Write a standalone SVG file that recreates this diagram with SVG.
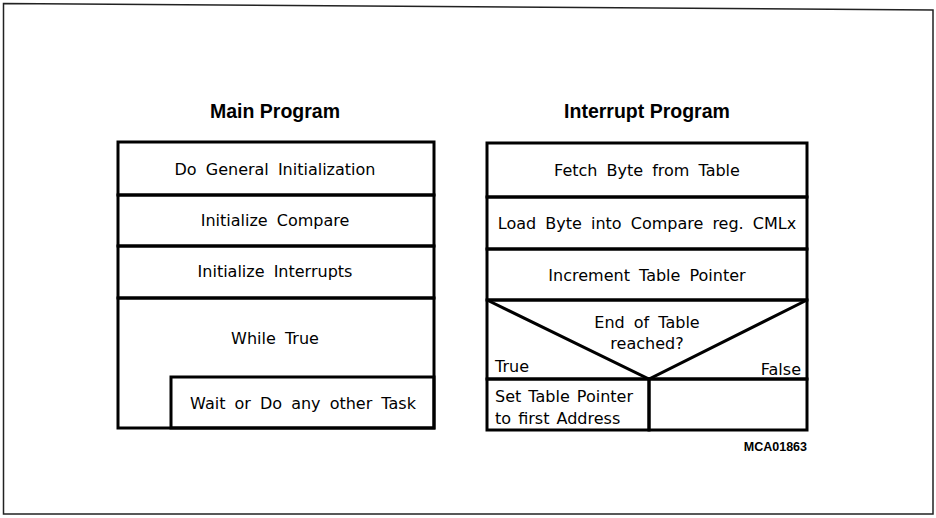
<svg xmlns="http://www.w3.org/2000/svg" width="936" height="518" viewBox="0 0 936 518">
<style>
.b{fill:none;stroke:#000;stroke-width:3}
.t{font-family:"DejaVu Sans","Liberation Sans",sans-serif;font-size:16px;fill:#000;word-spacing:4px}
.h{font-family:"Liberation Sans",sans-serif;font-size:19.5px;font-weight:bold;fill:#000}
.c{text-anchor:middle}
.r{text-anchor:end}
</style>
<rect width="936" height="518" fill="#fff"/>
<path d="M3.5,3.5 L933,10 L933,514 L3.5,514 Z" fill="none" stroke="#222" stroke-width="1.5"/>
<g id="main">
<text class="h c" x="275" y="118">Main Program</text>
<g id="m1"><rect class="b" x="118" y="142" width="316" height="53"/><text class="t c" x="275" y="175">Do General Initialization</text></g>
<g id="m2"><rect class="b" x="118" y="195" width="316" height="51"/><text class="t c" x="275" y="226">Initialize Compare</text></g>
<g id="m3"><rect class="b" x="118" y="246" width="316" height="52"/><text class="t c" x="275" y="277">Initialize Interrupts</text></g>
<g id="m4"><rect class="b" x="118" y="298" width="316" height="130"/><text class="t c" x="275" y="344">While True</text></g>
<g id="m5"><rect class="b" x="171" y="377" width="263" height="51"/><text class="t c" x="303" y="409">Wait or Do any other Task</text></g>
</g>
<g id="interrupt">
<text class="h c" x="647" y="118">Interrupt Program</text>
<g id="i1"><rect class="b" x="487" y="143" width="320" height="54"/><text class="t c" x="647" y="176">Fetch Byte from Table</text></g>
<g id="i2"><rect class="b" x="487" y="197" width="320" height="52"/><text class="t c" x="647" y="229">Load Byte into Compare reg. CMLx</text></g>
<g id="i3"><rect class="b" x="487" y="249" width="320" height="51"/><text class="t c" x="647" y="281">Increment Table Pointer</text></g>
<g id="i4"><rect class="b" x="487" y="300" width="320" height="79"/>
<path class="b" d="M487,300 L649,379 L807,300"/>
<text class="t c" x="647" y="328">End of Table</text><text class="t c" x="647" y="349">reached?</text>
<text class="t" x="495" y="372">True</text><text class="t r" x="801" y="375">False</text></g>
<g id="i5"><rect class="b" x="487" y="379" width="162" height="51"/><text class="t" x="495" y="402" style="word-spacing:2px">Set Table Pointer</text><text class="t" x="495" y="424" style="word-spacing:2px">to first Address</text></g>
<g id="i6"><rect class="b" x="649" y="379" width="158" height="51"/></g>
<text x="807" y="451" font-family="Liberation Sans,sans-serif" font-size="12.5" font-weight="bold" text-anchor="end">MCA01863</text>
</g>
<g id="connectors"/>
</svg>
